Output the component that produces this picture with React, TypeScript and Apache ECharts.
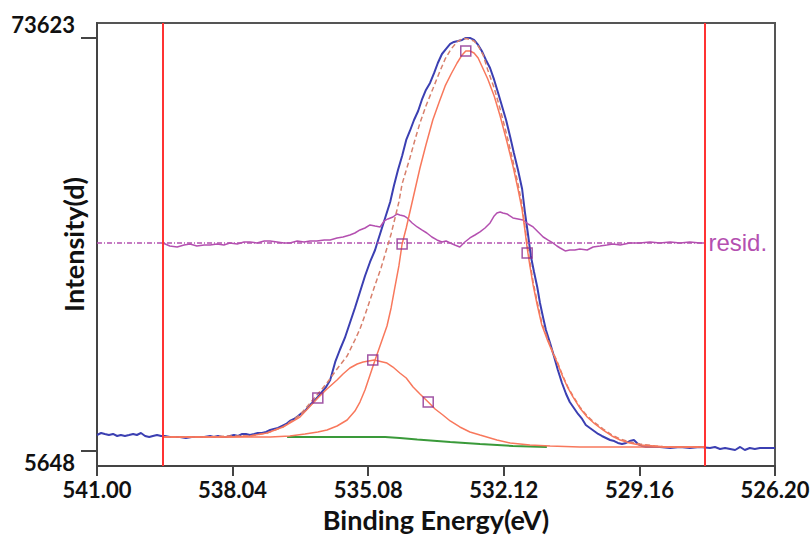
import React, { useEffect, useRef } from "react";
import * as echarts from "echarts";

// Binding energy ticks (eV) and intensity ticks
const tickEnergies = [541.0, 538.04, 535.08, 532.12, 529.16, 526.2];
const intensityTicks = [5648, 73623];
const regionLimits = [539.56, 527.73];
const residZero = 39885;

// Measured spectrum [eV, counts]
const measured: [number, number][] = [
  [541.0, 8280], [540.91, 8610], [540.83, 8450], [540.74, 8280], [540.65, 8450], [540.56, 8120],
  [540.48, 8280], [540.39, 8120], [540.3, 8280], [540.21, 8450], [540.13, 8280], [540.04, 8610],
  [539.95, 8120], [539.86, 7950], [539.78, 8120], [539.69, 8280], [539.6, 8120], [539.52, 8120],
  [539.41, 7950], [539.3, 7950], [539.19, 7950], [539.06, 7790], [538.93, 7950], [538.8, 7950],
  [538.66, 7950], [538.53, 8120], [538.45, 7950], [538.36, 8120], [538.27, 7950], [538.18, 7950],
  [538.1, 8120], [538.01, 8280], [537.92, 8120], [537.83, 8450], [537.75, 8450], [537.66, 8280],
  [537.57, 8450], [537.49, 8610], [537.4, 8610], [537.31, 8780], [537.22, 9100], [537.14, 9270],
  [537.05, 9430], [536.96, 9760], [536.87, 10090], [536.79, 10590], [536.7, 10920], [536.61, 11410],
  [536.53, 11900], [536.44, 12400], [536.35, 13220], [536.26, 13880], [536.18, 14540], [536.09, 15360],
  [536.0, 16180], [535.91, 17340], [535.8, 20300], [535.7, 22270], [535.59, 24250], [535.48, 26720],
  [535.37, 29190], [535.26, 31820], [535.15, 34450], [535.04, 36760], [534.93, 38730], [534.87, 40210],
  [534.78, 42350], [534.69, 44490], [534.6, 46630], [534.52, 49270], [534.43, 51900], [534.34, 54210],
  [534.25, 56840], [534.17, 58320], [534.08, 60130], [533.99, 61610], [533.91, 63420], [533.82, 65070],
  [533.73, 66220], [533.64, 67870], [533.56, 69510], [533.47, 70990], [533.38, 71820], [533.29, 72640],
  [533.21, 72970], [533.12, 73130], [533.03, 73300], [532.95, 73630], [532.86, 73630], [532.77, 73300],
  [532.68, 72480], [532.6, 71490], [532.51, 70010], [532.42, 68690], [532.33, 66720], [532.25, 64740],
  [532.16, 62440], [532.07, 60130], [531.98, 57330], [531.9, 54700], [531.81, 51900], [531.72, 48770],
  [531.66, 44990], [531.59, 41200], [531.53, 37750], [531.46, 35110], [531.39, 32640], [531.33, 30010],
  [531.26, 27540], [531.2, 25570], [531.11, 23430], [531.02, 21120], [530.94, 18980], [530.85, 16840],
  [530.76, 15030], [530.68, 13710], [530.59, 12730], [530.5, 11740], [530.41, 10920], [530.33, 9930],
  [530.24, 9430], [530.15, 8940], [530.06, 8450], [529.98, 8120], [529.89, 7790], [529.8, 7460],
  [529.71, 7290], [529.63, 6970], [529.54, 6800], [529.45, 6970], [529.37, 7290], [529.28, 7460],
  [529.19, 6800], [529.1, 6470], [529.02, 6310], [528.93, 6310], [528.71, 6310], [528.49, 6140],
  [528.27, 6310], [528.06, 6140], [527.84, 6310], [527.62, 6140], [527.51, 6310], [527.4, 5980],
  [527.29, 6140], [527.18, 5980], [527.07, 5810], [526.96, 6310], [526.86, 5810], [526.75, 6140],
  [526.64, 5980], [526.53, 6140], [526.42, 6140], [526.31, 6140], [526.2, 6140],
];

// Fit envelope (sum of components)
const envelope: [number, number][] = [
  [539.56, 7950], [538.75, 7950], [538.1, 8120], [537.66, 8120], [537.29, 8610], [536.94, 9600],
  [536.57, 11570], [536.18, 15030], [535.98, 16840], [535.76, 19150], [535.54, 21290], [535.37, 23920],
  [535.26, 25730], [535.15, 28030], [535.04, 30500], [534.93, 32970], [534.8, 35770], [534.67, 39060],
  [534.58, 41370], [534.5, 43840], [534.41, 46630], [534.34, 49600], [534.17, 53880], [534.06, 56840],
  [533.95, 59640], [533.82, 62430], [533.67, 65230], [533.53, 67870], [533.4, 70170], [533.27, 71820],
  [533.14, 72970], [533.03, 73460], [532.95, 73550], [532.86, 73380], [532.77, 73130], [532.68, 72310],
  [532.57, 70830], [532.47, 68360], [532.33, 65400], [532.2, 61940], [532.05, 57500], [531.92, 53380],
  [531.81, 49600], [531.72, 46140], [531.66, 42680], [531.61, 39720], [531.55, 36760], [531.48, 33470],
  [531.39, 30170], [531.29, 26720], [531.16, 24080], [531.05, 21940], [530.96, 20460], [530.83, 17990],
  [530.72, 16180], [530.61, 14700], [530.46, 12890], [530.3, 11410], [530.13, 10260], [529.95, 9270],
  [529.76, 8280], [529.58, 7620], [529.37, 7130], [529.15, 6800], [528.82, 6470], [528.56, 6310],
  [527.73, 6310],
];

// Main component (~532.9 eV)
const peakMain: [number, number][] = [
  [539.56, 7950], [538.75, 7950], [537.88, 7950], [537.22, 7950], [536.79, 8120], [536.46, 8450],
  [536.18, 8780], [535.98, 9100], [535.76, 9760], [535.54, 10750], [535.37, 12230], [535.26, 13710],
  [535.15, 15690], [535.04, 18160], [534.93, 20630], [534.8, 23430], [534.67, 26220], [534.58, 29190],
  [534.5, 32480], [534.41, 36100], [534.34, 39720], [534.25, 42350], [534.17, 44990], [534.06, 48610],
  [533.95, 52230], [533.82, 56020], [533.67, 60130], [533.53, 63090], [533.4, 65730], [533.27, 67700],
  [533.14, 69510], [533.03, 70830], [532.95, 71490], [532.86, 71490], [532.77, 71160], [532.68, 70340],
  [532.6, 69020], [532.47, 66880], [532.33, 64080], [532.2, 60790], [532.05, 56510], [531.92, 52560],
  [531.81, 48770], [531.72, 45320], [531.66, 42030], [531.61, 39060], [531.55, 36100], [531.48, 32970],
  [531.39, 29680], [531.29, 26390], [531.16, 23750], [531.05, 21780], [530.96, 20300], [530.83, 17830],
  [530.72, 16020], [530.61, 14540], [530.46, 12730], [530.3, 11240], [530.13, 10090], [529.95, 9100],
  [529.76, 8120], [529.58, 7460], [529.37, 6970], [529.15, 6640], [528.82, 6470], [528.56, 6310],
  [528.06, 6310], [527.73, 6310],
];

// Shoulder component (~535.0 eV)
const peakShoulder: [number, number][] = [
  [539.56, 7950], [538.75, 7950], [538.1, 7950], [537.66, 8120], [537.29, 8610], [536.94, 9600],
  [536.57, 11240], [536.18, 14370], [535.98, 15850], [535.76, 17340], [535.63, 18320], [535.48, 19310],
  [535.32, 19970], [535.19, 20300], [534.95, 20630], [534.67, 20130], [534.54, 19470], [534.39, 18490],
  [534.25, 17660], [534.1, 16180], [533.95, 15030], [533.77, 13710], [533.62, 12560], [533.45, 11570],
  [533.29, 10590], [533.08, 9600], [532.86, 8780], [532.64, 8280], [532.27, 7460], [531.98, 6970],
  [531.55, 6640], [531.11, 6470], [530.46, 6310], [529.58, 6310], [527.73, 6310],
];

// Background
const background: [number, number][] = [
  [536.85, 7950], [534.71, 7950], [534.39, 7790], [534.01, 7540], [533.29, 7130], [532.64, 6800],
  [531.92, 6470], [531.18, 6310],
];

// Residual (offset to the resid. line)
const residual: [number, number][] = [
  [539.56, 39890], [539.41, 39390], [539.25, 39230], [539.1, 39560], [538.97, 39720], [538.82, 39390],
  [538.66, 39560], [538.53, 39560], [538.38, 39720], [538.23, 39560], [538.1, 39890], [537.94, 39720],
  [537.79, 40050], [537.66, 40050], [537.51, 39890], [537.35, 40210], [537.22, 40210], [537.07, 40050],
  [536.92, 39890], [536.79, 39890], [536.63, 40210], [536.48, 40050], [536.35, 40210], [536.2, 40210],
  [536.04, 40380], [535.91, 40380], [535.76, 40710], [535.63, 40870], [535.48, 41200], [535.37, 41530],
  [535.26, 42030], [535.15, 42350], [535.04, 42850], [534.93, 42680], [534.82, 42520], [534.73, 43510],
  [534.65, 43840], [534.54, 44160], [534.45, 44660], [534.39, 44490], [534.3, 44330], [534.23, 44000],
  [534.12, 43180], [534.01, 42520], [533.91, 42030], [533.8, 41530], [533.69, 40870], [533.58, 40380],
  [533.47, 40050], [533.38, 40210], [533.29, 39890], [533.19, 39560], [533.08, 39230], [532.97, 40050],
  [532.86, 40710], [532.75, 41200], [532.64, 41700], [532.53, 42350], [532.42, 43180], [532.33, 44330],
  [532.27, 44820], [532.2, 44990], [532.14, 44820], [532.05, 44660], [531.92, 44000], [531.81, 43840],
  [531.7, 43670], [531.59, 43010], [531.48, 42520], [531.37, 41700], [531.26, 40870], [531.16, 40380],
  [531.05, 39890], [530.96, 39390], [530.89, 39060], [530.78, 38570], [530.68, 38730], [530.57, 38730],
  [530.46, 38900], [530.3, 38730], [530.17, 39230], [530.02, 39390], [529.87, 39560], [529.74, 39720],
  [529.58, 39560], [529.37, 39890], [529.15, 39890], [528.93, 40050], [528.71, 39890], [528.49, 40050],
  [528.27, 39890], [528.06, 40050], [527.84, 39890], [527.73, 39890],
];

// Component markers
const markers: [number, number][] = [
  [532.95, 71490], [534.34, 39720], [531.61, 38240], [534.98, 20630], [536.18, 14370], [533.77, 13710],
];

const FONT = "Lato, 'Open Sans', sans-serif";

export default function App() {
  const ref = useRef<HTMLDivElement>(null);
  useEffect(() => {
    if (!ref.current) return;
    const chart = echarts.init(ref.current, undefined, { renderer: "svg" });
    const salmon = "#f8785c";
    const magenta = "#b450b0";
    chart.setOption({
      animation: false,
      backgroundColor: "#ffffff",
      grid: {
        left: 97, right: 35, top: 23, bottom: 74,
        show: true, borderColor: "#555", borderWidth: 2,
        containLabel: false, outerBoundsMode: "none",
      },
      xAxis: {
        type: "value",
        inverse: true,
        min: 526.2,
        max: 541.0,
        name: "Binding Energy(eV)",
        nameLocation: "middle",
        nameGap: 40,
        nameMoveOverlap: false,
        nameTextStyle: { fontFamily: FONT, fontWeight: "bold", fontSize: 27, color: "#111" },
        axisLine: { show: true, lineStyle: { color: "#444", width: 2 } },
        axisTick: { show: true, length: 10, customValues: tickEnergies, lineStyle: { color: "#444", width: 2 } },
        axisLabel: {
          customValues: tickEnergies,
          formatter: (v: number) => v.toFixed(2),
          fontFamily: FONT, fontWeight: "bold", fontSize: 22, color: "#111", margin: 12,
        },
        splitLine: { show: false },
      },
      yAxis: {
        type: "value",
        min: 3179,
        max: 76092,
        name: "Intensity(d)",
        nameLocation: "middle",
        nameGap: 10,
        nameMoveOverlap: false,
        nameTextStyle: { fontFamily: FONT, fontWeight: "bold", fontSize: 27, color: "#111" },
        axisLine: { show: true, lineStyle: { color: "#444", width: 2 } },
        axisTick: { show: true, length: 16, customValues: intensityTicks, lineStyle: { color: "#444", width: 2 } },
        axisLabel: {
          customValues: intensityTicks,
          margin: 22,
          formatter: (v: number) => (v > 40000 ? `{top|${v}}` : `{bot|${v}}`),
          rich: {
            top: { fontFamily: FONT, fontWeight: "bold", fontSize: 22, color: "#111", padding: [0, 0, 28, 0] },
            bot: { fontFamily: FONT, fontWeight: "bold", fontSize: 22, color: "#111", padding: [24, 0, 0, 0] },
          },
        },
        splitLine: { show: false },
      },
      series: [
        {
          name: "measured",
          type: "line",
          data: measured,
          symbol: "none",
          lineStyle: { color: "#3b3fb2", width: 2 },
          z: 2,
          markLine: {
            silent: true,
            symbol: ["none", "none"],
            label: { show: false },
            lineStyle: { color: "#ff3333", width: 2, type: "solid" },
            data: regionLimits.map((x) => ({ xAxis: x })),
          },
        },
        {
          name: "envelope",
          type: "line",
          data: envelope,
          symbol: "none",
          lineStyle: { color: "#d8806c", width: 1.5, type: [5, 3] },
          z: 3,
        },
        {
          name: "main",
          type: "line",
          data: peakMain,
          symbol: "none",
          lineStyle: { color: salmon, width: 1.5 },
          z: 3,
        },
        {
          name: "shoulder",
          type: "line",
          data: peakShoulder,
          symbol: "none",
          lineStyle: { color: salmon, width: 1.5 },
          z: 3,
        },
        {
          name: "background",
          type: "line",
          data: background,
          symbol: "none",
          lineStyle: { color: "#3a9a3a", width: 2 },
          z: 2,
        },
        {
          name: "residZero",
          type: "line",
          data: [[541.0, residZero], [527.73, residZero]],
          symbol: "none",
          lineStyle: { color: magenta, width: 1.3, type: [5, 2, 1, 2] },
          markPoint: {
            silent: true,
            symbol: "circle",
            symbolSize: 1,
            itemStyle: { color: "rgba(0,0,0,0)" },
            label: {
              show: true,
              position: "right",
              distance: 3,
              formatter: "resid.",
              color: magenta,
              fontSize: 24,
              fontFamily: "'Liberation Sans', Arial, sans-serif",
            },
            data: [{ coord: [527.73, residZero] }],
          },
          z: 2,
        },
        {
          name: "residual",
          type: "line",
          data: residual,
          symbol: "none",
          lineStyle: { color: magenta, width: 1.5 },
          z: 2,
        },
        {
          name: "markers",
          type: "scatter",
          data: markers,
          symbol: "rect",
          symbolSize: 10,
          itemStyle: { color: "rgba(255,255,255,0)", borderColor: "#8a2a8e", borderWidth: 1.5 },
          z: 5,
        },
      ],
    });
    return () => chart.dispose();
  }, []);
  return (
    <div
      ref={ref}
      style={{ position: "absolute", left: 0, top: 0, width: 810, height: 540, background: "#fff" }}
    />
  );
}
